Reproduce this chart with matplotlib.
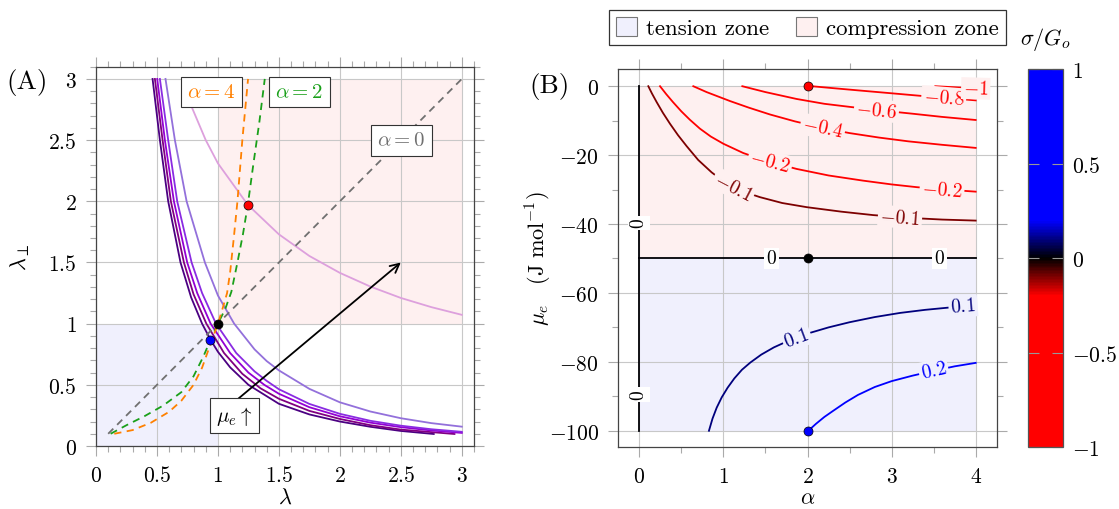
import numpy as np
import matplotlib
matplotlib.use("Agg")
import matplotlib.pyplot as plt
import matplotlib.ticker as ticker
from matplotlib.colors import LinearSegmentedColormap, Normalize
from matplotlib.cm import ScalarMappable
from matplotlib.patches import Patch

plt.rcParams['font.family'] = ['cmr10', 'DejaVu Serif']
plt.rcParams['mathtext.fontset'] = 'cm'
plt.rcParams['axes.formatter.use_mathtext'] = True

# ---------------- dados painel (A) ----------------
# curvas lambda_perp(lambda), do mu_e mais baixo (escuro) ao mais alto (claro)
lam_c1 = [0.464, 0.524, 0.592, 0.693, 0.78, 0.87, 0.94, 1.0, 1.1, 1.25, 1.5, 1.75, 2.0, 2.25, 2.5, 2.77]
lperp_c1 = [3.0, 2.5, 2.0, 1.5, 1.215, 1.0, 0.867, 0.77, 0.643, 0.50, 0.345, 0.258, 0.20, 0.157, 0.123, 0.098]
lam_c2 = [0.483, 0.546, 0.614, 0.721, 0.80, 0.905, 1.05, 1.2, 1.35, 1.5, 1.75, 2.0, 2.25, 2.5, 2.94]
lperp_c2 = [3.0, 2.5, 2.0, 1.5, 1.24, 1.0, 0.76, 0.59, 0.471, 0.386, 0.287, 0.221, 0.170, 0.134, 0.098]
lam_c3 = [0.502, 0.565, 0.639, 0.748, 0.83, 0.94, 1.1, 1.25, 1.38, 1.5, 1.75, 2.0, 2.25, 2.5, 2.75, 3.0]
lperp_c3 = [3.0, 2.5, 2.0, 1.5, 1.25, 1.0, 0.76, 0.60, 0.50, 0.427, 0.317, 0.243, 0.191, 0.154, 0.127, 0.107]
lam_c4 = [0.524, 0.592, 0.666, 0.784, 0.87, 0.984, 1.15, 1.3, 1.4, 1.5, 1.75, 2.0, 2.25, 2.5, 2.75, 3.0]
lperp_c4 = [3.0, 2.5, 2.0, 1.5, 1.25, 1.0, 0.76, 0.61, 0.532, 0.464, 0.344, 0.263, 0.206, 0.166, 0.137, 0.116]
lam_c5 = [0.57, 0.647, 0.743, 0.893, 1.0, 1.133, 1.3, 1.4, 1.5, 1.75, 2.0, 2.25, 2.5, 2.75, 3.0]
lperp_c5 = [3.0, 2.5, 2.0, 1.5, 1.23, 1.0, 0.79, 0.694, 0.618, 0.467, 0.357, 0.282, 0.227, 0.187, 0.158]
lam_c6 = [0.71, 0.764, 0.9, 1.0, 1.245, 1.5, 1.75, 2.0, 2.25, 2.5, 2.75, 3.0]
lperp_c6 = [3.0, 2.82, 2.50, 2.31, 1.971, 1.73, 1.553, 1.415, 1.303, 1.21, 1.135, 1.072]

# caminhos para alpha = 0, 2, 4
lam_a0 = [0.1, 3.0]
lperp_a0 = [0.1, 3.0]
lam_a2 = [0.12, 0.25, 0.40, 0.55, 0.70, 0.80, 0.88, 0.939, 1.0, 1.06, 1.11, 1.16, 1.205, 1.245, 1.29, 1.34, 1.384]
lperp_a2 = [0.10, 0.17, 0.245, 0.33, 0.44, 0.57, 0.73, 0.867, 1.0, 1.12, 1.26, 1.5, 1.73, 1.971, 2.3, 2.65, 3.0]
lam_a4 = [0.15, 0.30, 0.45, 0.60, 0.70, 0.80, 0.87, 0.92, 0.96, 1.0, 1.04, 1.075, 1.10, 1.13, 1.16, 1.20, 1.247]
lperp_a4 = [0.10, 0.13, 0.19, 0.28, 0.37, 0.50, 0.64, 0.78, 0.89, 1.0, 1.13, 1.25, 1.42, 1.7, 2.0, 2.5, 3.0]

# pontos marcados (mu_e = 0, -50, -100 com alpha = 2)
lam_pts = [1.245, 1.0, 0.939]
lperp_pts = [1.971, 1.0, 0.867]

# zonas
tension_lam = [0, 1]
tension_lperp = [0, 1]
compress_lam = [1, 3]
compress_lperp = [1, 3]

# ---------------- dados painel (B) ----------------
alpha_z0v = [0, 0]
mu_z0v = [0, -100]
alpha_z0h = [0, 4]
mu_z0h = [-50, -50]
alpha_m01 = [0.107, 0.15, 0.206, 0.28, 0.365, 0.46, 0.563, 0.7, 0.86, 1.0, 1.15, 1.3, 1.435, 1.7, 1.99, 2.4, 2.78, 3.2, 3.6, 4.0]
mu_m01 = [0, -2.1, -4.6, -7.7, -10.9, -14.2, -17.4, -21.4, -25.0, -27.6, -29.6, -31.1, -32.2, -33.9, -35.1, -36.4, -37.4, -38.2, -38.7, -39.0]
alpha_m02 = [0.246, 0.32, 0.40, 0.50, 0.60, 0.72, 0.85, 1.0, 1.237, 1.5, 1.87, 2.25, 2.66, 3.0, 3.30, 3.65, 4.0]
mu_m02 = [0, -2.3, -4.6, -7.3, -9.7, -12.3, -14.6, -16.7, -19.4, -21.6, -24.0, -25.9, -27.4, -28.5, -29.3, -30.0, -30.6]
alpha_m04 = [0.642, 0.8, 1.078, 1.3, 1.554, 1.85, 2.18, 2.5, 2.85, 3.2, 3.6, 4.0]
mu_m04 = [0, -1.7, -4.3, -6.2, -8.2, -10.2, -12.1, -13.6, -14.9, -16.0, -17.0, -17.9]
alpha_m06 = [1.225, 1.5, 1.871, 2.2, 2.505, 2.822, 3.258, 3.6, 4.0]
mu_m06 = [0, -1.7, -3.7, -5.1, -6.0, -6.9, -8.0, -8.9, -9.8]
alpha_m08 = [2.05, 2.3, 2.6, 3.0, 3.42, 3.75, 4.0]
mu_m08 = [0, -0.55, -1.2, -2.05, -2.95, -3.6, -4.1]
alpha_m10 = [3.52, 3.75, 4.0]
mu_m10 = [0, -0.3, -0.65]
alpha_p01 = [0.828, 0.87, 0.92, 0.98, 1.05, 1.13, 1.22, 1.32, 1.45, 1.6, 1.78, 2.0, 2.25, 2.5, 2.8, 3.1, 3.4, 3.7, 4.0]
mu_p01 = [-100, -96.5, -93.3, -90.3, -87.5, -84.8, -82.3, -80.2, -77.9, -75.8, -73.8, -71.8, -70.0, -68.5, -67.0, -65.8, -64.9, -64.2, -63.6]
alpha_p02 = [2.01, 2.1, 2.2, 2.3, 2.45, 2.6, 2.8, 3.0, 3.25, 3.5, 3.75, 4.0]
mu_p02 = [-100, -98.0, -96.0, -94.3, -91.8, -89.6, -87.3, -85.6, -84.0, -82.6, -81.3, -80.3]

iso_levels = [-0.1, -0.2, -0.4, -0.6, -0.8, -1, 0.1, 0.2]
iso_alpha = [alpha_m01, alpha_m02, alpha_m04, alpha_m06, alpha_m08, alpha_m10, alpha_p01, alpha_p02]
iso_mu = [mu_m01, mu_m02, mu_m04, mu_m06, mu_m08, mu_m10, mu_p01, mu_p02]

# rotulos: (indice do nivel, alpha)
iso_label_idx = [0, 0, 1, 1, 2, 3, 4, 5, 6, 6, 7]
iso_label_alpha = [1.12, 3.10, 1.554, 3.6, 2.18, 2.82, 3.62, 4.0, 1.87, 3.85, 3.5]
z0v_label_mu = [-39.7, -89.4]
z0h_label_alpha = [1.57, 3.57]

alpha_pts = [2, 2, 2]
mu_pts = [0, -50, -100]
pts_colors = ['red', 'black', 'blue']

tension_alpha = [0, 4]
tension_mu = [-100, -50]
compress_alpha = [0, 4]
compress_mu = [-50, 0]

# ---------------- figura ----------------
W, H = 1119, 510
fig = plt.figure(figsize=(W / 100, H / 100), dpi=100)

blue_fill = '#f0f0fd'
red_fill = '#fef0f0'
grid_c = '#c8c8c8'
tick_c = '#aaaaaa'


def estilo(ax):
    ax.tick_params(which='both', direction='out', top=True, right=True,
                   color=tick_c, width=0.8, labelsize=15.5, pad=7)
    ax.tick_params(which='major', length=7)
    ax.tick_params(which='minor', length=4.5)
    ax.grid(True, which='major', color=grid_c, lw=0.8)
    for s in ax.spines.values():
        s.set_color('#444444')
        s.set_linewidth(0.9)
    fmt = ticker.FuncFormatter(lambda v, p: '$%g$' % v)
    ax.xaxis.set_major_formatter(fmt)
    ax.yaxis.set_major_formatter(fmt)


# painel (A)
ax1 = fig.add_axes([96 / W, 1 - 447 / H, 378 / W, 379.3 / H])
ax1.set_xlim(0, 3.1)
ax1.set_ylim(0, 3.1)
ax1.xaxis.set_major_locator(ticker.MultipleLocator(0.5))
ax1.yaxis.set_major_locator(ticker.MultipleLocator(0.5))
ax1.xaxis.set_minor_locator(ticker.MultipleLocator(0.1))
ax1.yaxis.set_minor_locator(ticker.MultipleLocator(0.1))
estilo(ax1)

ax1.fill_between(tension_lam, tension_lperp[0], tension_lperp[1], color=blue_fill, lw=0, zorder=0.5)
ax1.fill_between(compress_lam, compress_lperp[0], compress_lperp[1], color=red_fill, lw=0, zorder=0.5)

curvas = [(lam_c1, lperp_c1, '#4b0082'), (lam_c2, lperp_c2, '#800080'),
          (lam_c3, lperp_c3, '#9400d3'), (lam_c4, lperp_c4, '#8a2be2'),
          (lam_c5, lperp_c5, '#9370db'), (lam_c6, lperp_c6, '#dda0dd')]
for x, y, c in curvas:
    ax1.plot(x, y, color=c, lw=1.3, zorder=2)

ax1.plot(lam_a0, lperp_a0, color='#707070', lw=1.3, dashes=(4, 3), zorder=3)
ax1.plot(lam_a2, lperp_a2, color='#1aa01a', lw=1.3, dashes=(4, 3), zorder=3)
ax1.plot(lam_a4, lperp_a4, color='#ff8000', lw=1.3, dashes=(4, 3), zorder=3)

for x, y, c in zip(lam_pts, lperp_pts, pts_colors):
    ax1.plot(x, y, 'o', color=c, ms=6.5, mec='k', mew=0.5, zorder=5)

ax1.annotate('', xy=(2.5, 1.5), xytext=(1.147, 0.37),
             arrowprops=dict(arrowstyle='->', color='k', lw=1.3, mutation_scale=16,
                             shrinkA=0, shrinkB=0), zorder=4)

caixa = dict(boxstyle='square,pad=0.3', fc='white', ec='#333333', lw=0.8)
ax1.text(0.95, 2.895, r'$\alpha=4$', color='#ff8000', fontsize=15, ha='center', va='center', bbox=caixa, zorder=6)
ax1.text(1.668, 2.895, r'$\alpha=2$', color='#1aa01a', fontsize=15, ha='center', va='center', bbox=caixa, zorder=6)
ax1.text(2.502, 2.497, r'$\alpha=0$', color='#707070', fontsize=15, ha='center', va='center', bbox=caixa, zorder=6)
ax1.text(1.133, 0.248, r'$\mu_e\uparrow$', color='k', fontsize=15, ha='center', va='center', bbox=caixa, zorder=6)

ax1.set_xlabel(r'$\lambda$', fontsize=16)
ax1.set_ylabel(r'$\lambda_\perp$', fontsize=16)
ax1.xaxis.set_label_coords(0.5, -0.108)
ax1.yaxis.set_label_coords(-0.17, 0.5)

# painel (B)
ax2 = fig.add_axes([618.3 / W, 1 - 448.3 / H, 378.4 / W, 378.3 / H])
ax2.set_xlim(-0.25, 4.25)
ax2.set_ylim(-104.8, 5)
ax2.xaxis.set_major_locator(ticker.MultipleLocator(1))
ax2.xaxis.set_minor_locator(ticker.MultipleLocator(0.5))
ax2.yaxis.set_major_locator(ticker.MultipleLocator(20))
ax2.yaxis.set_minor_locator(ticker.MultipleLocator(10))
estilo(ax2)

ax2.fill_between(tension_alpha, tension_mu[0], tension_mu[1], color=blue_fill, lw=0, zorder=0.5)
ax2.fill_between(compress_alpha, compress_mu[0], compress_mu[1], color=red_fill, lw=0, zorder=0.5)

cmap = LinearSegmentedColormap.from_list('sig', [(0, 'red'), (0.4, 'red'), (0.5, 'black'),
                                                  (0.6, 'blue'), (1, 'blue')])
norm = Normalize(-1, 1)

ax2.plot(alpha_z0v, mu_z0v, color=cmap(norm(0)), lw=1.3, zorder=2)
ax2.plot(alpha_z0h, mu_z0h, color=cmap(norm(0)), lw=1.3, zorder=2)
for lev, a, m in zip(iso_levels, iso_alpha, iso_mu):
    ax2.plot(a, m, color=cmap(norm(lev)), lw=1.3, zorder=2)

# rotulos das isolinhas
for i, a_lab in zip(iso_label_idx, iso_label_alpha):
    lev, a, m = iso_levels[i], iso_alpha[i], iso_mu[i]
    m_lab = np.interp(a_lab, a, m)
    dm = np.interp(a_lab + 0.05, a, m) - np.interp(a_lab - 0.05, a, m)
    ang = np.degrees(np.arctan2(dm, 0.1))
    rot = ax2.transData.transform_angles(np.array([ang]), np.array([[a_lab, m_lab]]))[0]
    fundo = red_fill if lev < 0 else blue_fill
    ax2.text(a_lab, m_lab, '$%g$' % lev, color=cmap(norm(lev)), fontsize=14,
             rotation=rot, rotation_mode='anchor', ha='center', va='center',
             bbox=dict(boxstyle='square,pad=0.1', fc=fundo, ec='none'), zorder=3)
for m_lab in z0v_label_mu:
    ax2.text(0, m_lab, '$0$', color='k', fontsize=14, rotation=90, rotation_mode='anchor',
             ha='center', va='center', bbox=dict(boxstyle='square,pad=0.1', fc='white', ec='none'), zorder=3)
for a_lab in z0h_label_alpha:
    ax2.text(a_lab, -50, '$0$', color='k', fontsize=14, ha='center', va='center',
             bbox=dict(boxstyle='square,pad=0.1', fc='white', ec='none'), zorder=3)

for a, m, c in zip(alpha_pts, mu_pts, pts_colors):
    ax2.plot(a, m, 'o', color=c, ms=6.5, mec='k', mew=0.5, zorder=5, clip_on=False)

ax2.set_xlabel(r'$\alpha$', fontsize=16)
ax2.set_ylabel(r'$\mu_e\quad(\mathrm{J\ mol}^{-1})$', fontsize=16)
ax2.xaxis.set_label_coords(0.5, -0.108)
ax2.yaxis.set_label_coords(-0.17, 0.5)

# barra de cores
cax = fig.add_axes([1028.3 / W, 1 - 448.3 / H, 34.4 / W, 378.3 / H])
cb = fig.colorbar(ScalarMappable(norm=norm, cmap=cmap), cax=cax, ticks=[-1, -0.5, 0, 0.5, 1])
cb.ax.yaxis.set_major_formatter(ticker.FuncFormatter(lambda v, p: '$%g$' % v))
cax.tick_params(direction='in', left=True, right=True, color='#999999', length=8, width=0.8, labelsize=15.5, pad=7)
cb.outline.set_edgecolor('#555555')
cb.outline.set_linewidth(0.9)
cax.set_title(r'$\sigma/G_o$', fontsize=16, pad=18)

# legenda
handles = [Patch(fc=blue_fill, ec='#777777', lw=0.8), Patch(fc=red_fill, ec='#777777', lw=0.8)]
leg = fig.legend(handles, ['tension zone', 'compression zone'], loc='center',
                 bbox_to_anchor=(807.5 / W, 1 - 28.3 / H), ncol=2, fontsize=16.5,
                 frameon=True, fancybox=False, edgecolor='k', handlelength=0.9,
                 handleheight=0.9, handletextpad=0.4, columnspacing=1.2, borderpad=0.3)
leg.get_frame().set_linewidth(0.9)

fig.text(27 / W, 1 - 83 / H, '(A)', fontsize=19.5, ha='center', va='center')
fig.text(549 / W, 1 - 86 / H, '(B)', fontsize=19.5, ha='center', va='center')

plt.savefig('out.png', dpi=100)
